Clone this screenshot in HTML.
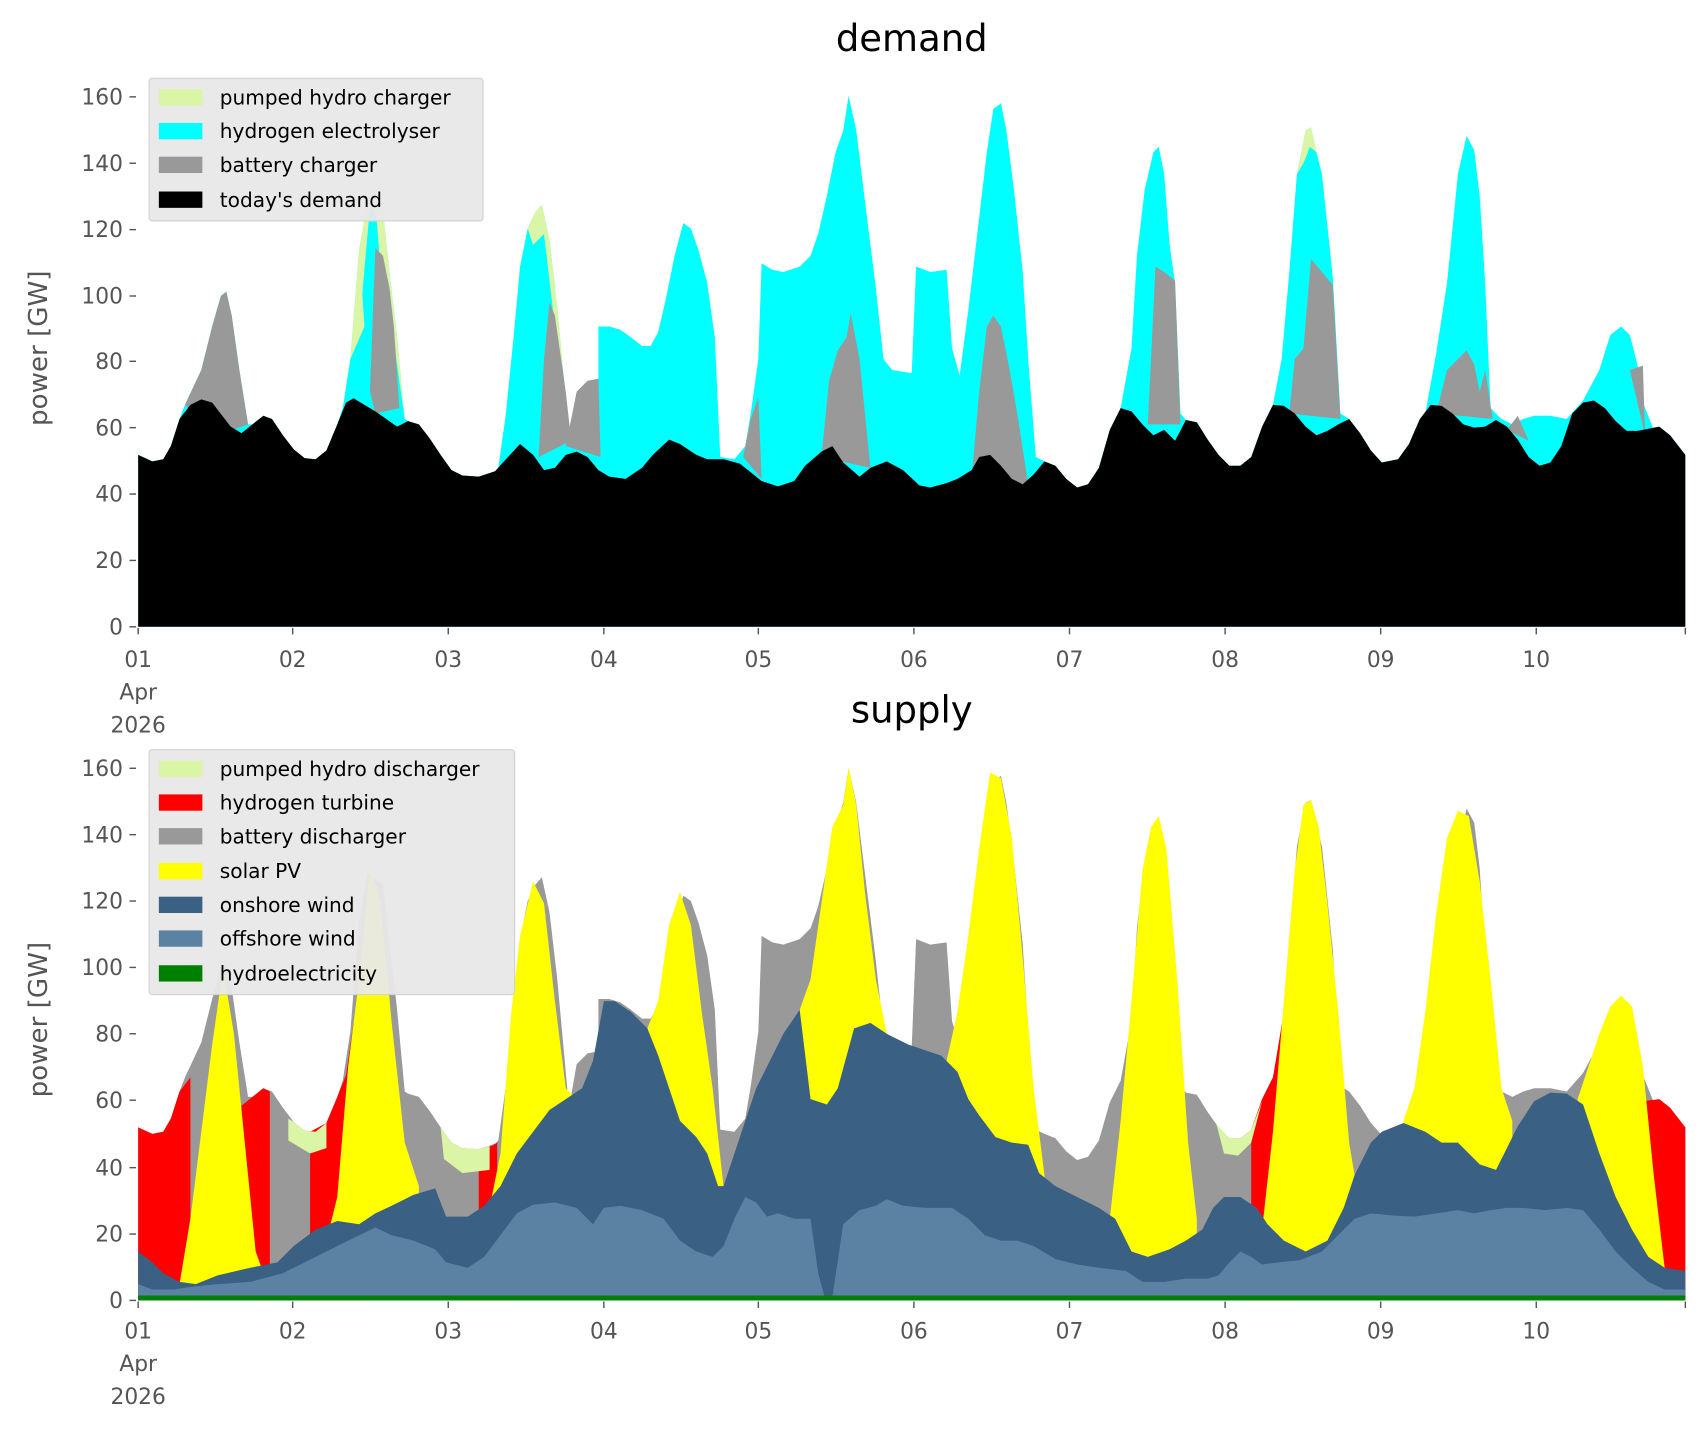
<!DOCTYPE html>
<html><head><meta charset="utf-8"><style>
html,body{margin:0;padding:0;background:#fff;}
svg{display:block;}
text{font-family:"DejaVu Sans","Liberation Sans",sans-serif;}
.tk{fill:#555;font-size:20px;}
.lg{fill:#000;font-size:18.5px;}
</style></head><body>
<svg width="1706" height="1431" viewBox="0 0 1568 1315" preserveAspectRatio="none" xmlns="http://www.w3.org/2000/svg">
<defs>
<polygon id="tot" points="127,418 140,424 150,422 157,410 165,385 170,372 185,340 195,300 203,272 208,268 213,290 220,340 228,390 232,390 242,382 250,385 260,400 270,413 280,421 290,422 300,414 310,390 315,375 322,330 330,230 338,185 345,190 352,195 358,250 365,310 372,385 375,387 385,390 395,403 405,418 415,432 425,437 440,438 455,433 458,430 465,380 472,310 478,245 485,210 492,195 498,188 505,220 512,280 518,345 523,400 530,360 540,350 550,348 550,300 560,300 570,303 580,310 590,318 598,318 605,305 612,275 620,235 628,205 635,210 642,230 650,260 657,310 662,420 675,422 685,410 690,380 697,330 700,242 710,248 720,250 735,245 745,235 752,215 760,180 768,140 775,120 780,88 787,120 795,185 805,265 812,330 820,340 838,343 842,245 855,250 870,248 875,320 882,345 890,285 900,200 907,140 913,100 920,95 925,120 932,175 940,250 945,330 952,420 960,424 970,428 980,440 990,448 1000,445 1010,430 1020,395 1030,375 1040,320 1045,235 1052,175 1060,140 1065,135 1070,160 1075,225 1080,260 1085,380 1090,386 1100,388 1110,404 1120,418 1130,428 1140,428 1150,420 1160,392 1170,372 1178,330 1185,250 1192,160 1200,120 1205,117 1210,140 1215,160 1225,255 1232,380 1240,385 1250,398 1260,414 1270,425 1285,422 1295,408 1305,385 1310,380 1320,325 1330,260 1340,160 1348,125 1355,138 1360,180 1365,260 1370,375 1380,385 1390,390 1400,385 1410,382 1425,382 1440,385 1455,368 1470,340 1480,308 1490,300 1498,308 1505,335 1510,370 1520,395 1525,392 1535,400 1549,418 1549,576 127,576"/>
</defs>

<!-- ===== DEMAND ===== -->
<use href="#tot" fill="#00ffff"/>
<polygon fill="#daf5a6" points="322,330 330,230 338,185 345,190 352,195 358,250 365,310 372,385 360,300 350,240 343,250 335,300"/>
<polygon fill="#00ffff" points="333,270 340,190 346,200 350,250 345,350 338,345"/>
<polygon fill="#daf5a6" points="485,210 492,195 498,188 505,220 512,280 518,345 510,300 500,215 490,225"/>
<polygon fill="#daf5a6" points="1192,160 1200,120 1205,117 1210,140 1204,135 1198,150"/>
<g fill="#999999">
<polygon points="170,372 185,340 195,300 203,272 208,268 213,290 220,340 228,390 200,400"/>
<polygon points="340,360 345,228 352,235 358,265 362,300 367,375 345,380"/>
<polygon points="495,420 500,330 505,278 510,290 515,325 520,360 525,405"/>
<polygon points="520,410 530,360 540,350 550,348 552,420"/>
<polygon points="683,420 690,385 697,365 700,440"/>
<polygon points="755,420 762,350 770,322 778,310 782,288 790,330 800,430"/>
<polygon points="893,440 900,360 907,300 913,290 920,300 928,340 935,380 945,445"/>
<polygon points="1055,390 1062,245 1070,250 1080,258 1085,390"/>
<polygon points="1185,380 1190,330 1198,320 1205,238 1215,250 1225,262 1232,385"/>
<polygon points="1320,380 1330,340 1340,330 1348,322 1355,335 1360,360 1365,340 1372,385"/>
<polygon points="1385,395 1395,382 1405,405"/>
<polygon points="1498,340 1510,336 1512,400"/>
</g>
<polygon fill="#000" points="127,418 140,424 150,422 157,410 165,385 175,372 185,367 195,370 205,383 212,392 222,398 232,390 242,382 250,385 260,400 270,413 280,421 290,422 300,414 310,390 318,370 325,366 335,372 345,378 355,385 365,392 375,387 385,390 395,403 405,418 415,432 425,437 440,438 455,433 465,422 478,408 490,418 500,432 510,430 520,418 530,415 540,420 550,432 560,438 575,440 590,430 600,418 615,404 625,408 640,418 650,422 665,422 680,426 690,434 700,442 715,447 730,442 740,428 755,415 765,410 775,425 790,438 800,430 815,424 830,432 845,446 855,448 870,444 880,440 893,432 900,420 910,418 920,428 930,440 940,445 950,436 960,424 970,428 980,440 990,448 1000,445 1010,430 1020,395 1030,375 1040,378 1050,390 1060,400 1070,395 1080,405 1090,386 1100,388 1110,404 1120,418 1130,428 1140,428 1150,420 1160,392 1170,372 1180,373 1190,380 1200,392 1210,400 1220,396 1230,390 1240,385 1250,398 1260,414 1270,425 1285,422 1295,408 1305,385 1315,372 1325,373 1335,380 1345,390 1355,393 1365,392 1375,386 1385,392 1395,404 1405,420 1415,428 1425,425 1435,410 1445,380 1455,370 1465,368 1475,375 1485,387 1495,396 1505,396 1515,394 1525,392 1535,400 1549,418 1549,576 127,576"/>

<!-- ===== SUPPLY ===== -->
<g transform="translate(0,618)"><use href="#tot" fill="#999999"/></g>
<g fill="#ff0000">
<polygon points="127,1036 140,1042 150,1040 157,1028 165,1003 175,990 175,1195 127,1195"/>
<polygon points="222,1016 232,1008 242,1000 248,1003 248,1195 222,1195"/>
<polygon points="285,1040 300,1032 310,1008 318,988 325,940 325,1195 285,1195"/>
<polygon points="440,1056 452,1053 457,1050 457,1195 440,1195"/>
<polygon points="1150,1038 1160,1010 1170,990 1180,930 1180,1195 1150,1195"/>
<polygon points="1510,1012 1525,1010 1535,1018 1549,1036 1549,1195 1510,1195"/>
</g>
<g fill="#daf5a6">
<polygon points="265,1028 270,1031 280,1039 290,1040 300,1032 300,1055 285,1060 265,1048"/>
<polygon points="405,1036 415,1050 425,1055 440,1056 450,1053 450,1075 425,1078 408,1065"/>
<polygon points="1118,1033 1130,1046 1140,1046 1150,1038 1160,1012 1150,1050 1138,1062 1125,1060"/>
</g>
<g fill="#ffff00">
<polygon points="165,1180 175,1120 185,1040 195,960 205,890 215,950 225,1050 235,1150 245,1178 245,1195 165,1195"/>
<polygon points="300,1140 310,1100 320,980 330,900 340,795 350,830 360,940 372,1050 385,1090 385,1195 300,1195"/>
<polygon points="450,1110 460,1060 470,930 478,860 490,810 500,830 510,920 520,1000 530,1010 530,1195 450,1195"/>
<polygon points="595,945 605,920 615,850 625,820 635,850 645,930 655,1000 665,1090 665,1195 595,1195"/>
<polygon points="735,928 745,900 755,830 765,760 775,740 780,705 787,740 795,820 805,900 815,950 815,1195 735,1195"/>
<polygon points="870,975 880,930 890,860 900,780 910,710 920,715 930,770 940,880 950,1000 960,1080 960,1195 870,1195"/>
<polygon points="1020,1120 1030,1030 1040,920 1050,800 1058,760 1065,750 1072,780 1082,900 1092,1050 1100,1120 1100,1195 1020,1195"/>
<polygon points="1160,1130 1170,1040 1180,920 1190,800 1198,740 1205,735 1212,760 1220,830 1230,930 1240,1050 1245,1080 1245,1195 1160,1195"/>
<polygon points="1290,1030 1300,1000 1310,930 1320,840 1330,770 1340,745 1350,750 1360,810 1370,900 1380,1000 1390,1030 1390,1195 1290,1195"/>
<polygon points="1450,1010 1460,980 1470,950 1480,925 1490,915 1500,925 1510,980 1520,1080 1530,1165 1530,1195 1450,1195"/>
</g>
<polygon fill="#3a6083" points="127,1150 140,1160 150,1170 165,1178 180,1180 200,1172 230,1165 255,1160 270,1145 290,1130 310,1122 330,1125 345,1115 360,1108 380,1098 400,1092 410,1118 430,1118 445,1108 460,1090 475,1060 490,1040 505,1020 520,1010 535,1000 545,975 555,920 565,920 580,930 595,945 605,970 615,1000 625,1030 640,1045 650,1060 660,1090 665,1090 675,1060 685,1030 695,1000 710,970 720,950 735,928 745,1010 760,1015 770,1000 785,945 800,940 815,950 835,960 850,965 865,970 880,985 890,1010 900,1025 915,1045 930,1050 945,1052 955,1078 970,1090 990,1100 1010,1110 1025,1120 1040,1150 1055,1155 1075,1148 1090,1140 1105,1130 1115,1110 1125,1100 1140,1100 1155,1110 1165,1125 1180,1140 1200,1150 1220,1140 1235,1110 1245,1080 1260,1050 1270,1040 1290,1032 1310,1040 1325,1050 1340,1050 1350,1060 1360,1070 1375,1075 1385,1055 1395,1035 1410,1012 1425,1004 1440,1005 1455,1015 1470,1060 1485,1100 1500,1130 1515,1155 1530,1165 1549,1168 1549,1195 127,1195"/>
<polygon fill="#5b81a3" points="127,1180 140,1185 160,1185 180,1182 200,1180 230,1178 260,1170 280,1160 300,1150 320,1140 345,1128 360,1135 380,1140 400,1148 410,1160 430,1165 445,1155 460,1135 475,1115 490,1107 510,1105 530,1110 545,1125 555,1110 570,1108 590,1112 610,1120 625,1140 640,1150 655,1155 665,1145 675,1120 685,1100 695,1105 705,1118 715,1115 730,1120 745,1120 752,1170 758,1192 765,1192 775,1125 790,1112 805,1108 815,1102 830,1108 850,1110 875,1110 890,1120 905,1135 920,1140 935,1140 950,1145 970,1157 990,1162 1010,1165 1035,1168 1050,1178 1070,1178 1090,1175 1110,1175 1120,1172 1130,1160 1140,1150 1150,1155 1160,1162 1175,1160 1195,1158 1215,1150 1230,1135 1245,1120 1260,1115 1280,1117 1300,1118 1320,1115 1340,1112 1355,1115 1370,1112 1385,1110 1400,1110 1420,1112 1440,1110 1455,1112 1470,1130 1485,1150 1500,1165 1515,1178 1530,1185 1549,1185 1549,1195 127,1195"/>
<rect x="127" y="1190.5" width="1422" height="4.5" fill="#008000"/>

<!-- ===== AXES TEXT ===== -->
<text x="838" y="47" text-anchor="middle" font-size="34" fill="#000" style="font-family:'DejaVu Sans',sans-serif">demand</text>
<text x="838" y="664" text-anchor="middle" font-size="34" fill="#000" style="font-family:'DejaVu Sans',sans-serif">supply</text>
<text transform="translate(43,320) rotate(-90)" text-anchor="middle" font-size="24" fill="#555">power [GW]</text>
<text transform="translate(43,937) rotate(-90)" text-anchor="middle" font-size="24" fill="#555">power [GW]</text>

<g stroke="#555" stroke-width="1.3">
<line x1="119" y1="576" x2="125" y2="576"/><line x1="119" y1="515" x2="125" y2="515"/><line x1="119" y1="454" x2="125" y2="454"/><line x1="119" y1="393" x2="125" y2="393"/><line x1="119" y1="332" x2="125" y2="332"/><line x1="119" y1="272" x2="125" y2="272"/><line x1="119" y1="211" x2="125" y2="211"/><line x1="119" y1="150" x2="125" y2="150"/><line x1="119" y1="89" x2="125" y2="89"/>
<line x1="119" y1="1195" x2="125" y2="1195"/><line x1="119" y1="1134" x2="125" y2="1134"/><line x1="119" y1="1073" x2="125" y2="1073"/><line x1="119" y1="1011" x2="125" y2="1011"/><line x1="119" y1="950" x2="125" y2="950"/><line x1="119" y1="889" x2="125" y2="889"/><line x1="119" y1="828" x2="125" y2="828"/><line x1="119" y1="767" x2="125" y2="767"/><line x1="119" y1="706" x2="125" y2="706"/>
<path d="M127,577v6M269,577v6M412,577v6M555,577v6M697,577v6M840,577v6M983,577v6M1126,577v6M1269,577v6M1412,577v6M1549,577v6"/>
<path d="M127,1196v6M269,1196v6M412,1196v6M555,1196v6M697,1196v6M840,1196v6M983,1196v6M1126,1196v6M1269,1196v6M1412,1196v6M1549,1196v6"/>
</g>
<g class="tk" text-anchor="end">
<text x="113" y="583">0</text><text x="113" y="522">20</text><text x="113" y="461">40</text><text x="113" y="400">60</text><text x="113" y="339">80</text><text x="113" y="279">100</text><text x="113" y="218">120</text><text x="113" y="157">140</text><text x="113" y="96">160</text>
<text x="113" y="1202">0</text><text x="113" y="1141">20</text><text x="113" y="1080">40</text><text x="113" y="1018">60</text><text x="113" y="957">80</text><text x="113" y="896">100</text><text x="113" y="835">120</text><text x="113" y="774">140</text><text x="113" y="713">160</text>
</g>
<g class="tk" text-anchor="middle">
<text x="127" y="613">01</text><text x="127" y="643">Apr</text><text x="127" y="673">2026</text>
<text x="269" y="613">02</text><text x="412" y="613">03</text><text x="555" y="613">04</text><text x="697" y="613">05</text><text x="840" y="613">06</text><text x="983" y="613">07</text><text x="1126" y="613">08</text><text x="1269" y="613">09</text><text x="1412" y="613">10</text>
<text x="127" y="1230">01</text><text x="127" y="1260">Apr</text><text x="127" y="1290">2026</text>
<text x="269" y="1230">02</text><text x="412" y="1230">03</text><text x="555" y="1230">04</text><text x="697" y="1230">05</text><text x="840" y="1230">06</text><text x="983" y="1230">07</text><text x="1126" y="1230">08</text><text x="1269" y="1230">09</text><text x="1412" y="1230">10</text>
</g>

<!-- legends -->
<rect x="137" y="72" width="307" height="131" rx="3" fill="#e8e8e8" fill-opacity="0.95" stroke="#d0d0d0"/>
<rect x="146" y="82" width="40" height="15" fill="#daf5a6"/>
<rect x="146" y="113" width="40" height="15" fill="#00ffff"/>
<rect x="146" y="144" width="40" height="15" fill="#999999"/>
<rect x="146" y="176" width="40" height="15" fill="#000"/>
<g class="lg"><text x="202" y="96">pumped hydro charger</text><text x="202" y="127">hydrogen electrolyser</text><text x="202" y="158">battery charger</text><text x="202" y="190">today's demand</text></g>

<rect x="137" y="689" width="336" height="225" rx="3" fill="#e8e8e8" fill-opacity="0.95" stroke="#d0d0d0"/>
<rect x="146" y="699" width="40" height="15" fill="#daf5a6"/>
<rect x="146" y="730" width="40" height="15" fill="#ff0000"/>
<rect x="146" y="761" width="40" height="15" fill="#999999"/>
<rect x="146" y="793" width="40" height="15" fill="#ffff00"/>
<rect x="146" y="824" width="40" height="15" fill="#3a6083"/>
<rect x="146" y="855" width="40" height="15" fill="#5b81a3"/>
<rect x="146" y="887" width="40" height="15" fill="#008000"/>
<g class="lg"><text x="202" y="713">pumped hydro discharger</text><text x="202" y="744">hydrogen turbine</text><text x="202" y="775">battery discharger</text><text x="202" y="807">solar PV</text><text x="202" y="838">onshore wind</text><text x="202" y="869">offshore wind</text><text x="202" y="901">hydroelectricity</text></g>
</svg>
</body></html>
